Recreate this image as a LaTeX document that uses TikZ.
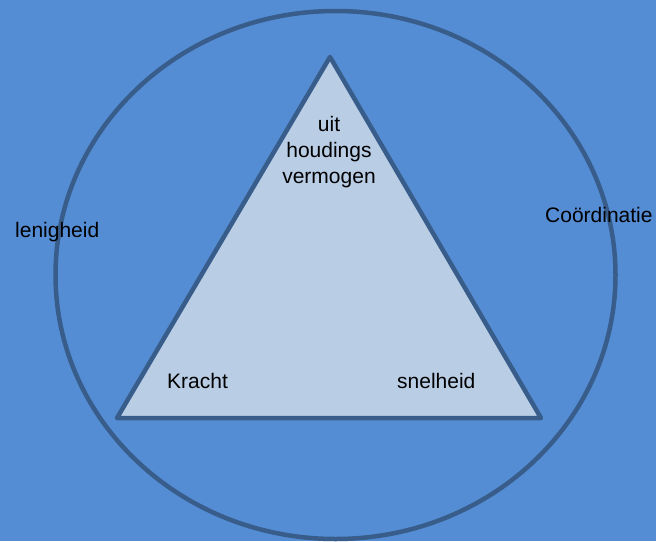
\documentclass[tikz,border=0pt]{standalone}
\usepackage{fontspec}
\setmainfont{Liberation Sans}
\definecolor{bgblue}{RGB}{84,141,212}
\definecolor{trifill}{RGB}{185,205,229}
\definecolor{edgeblue}{RGB}{56,93,138}
\begin{document}
\begin{tikzpicture}[x=1pt,y=-1pt,
  edge/.style={draw=edgeblue,line width=4.5pt,line join=round},
  lbl/.style={inner sep=0pt,font=\fontsize{21}{26}\selectfont,text=black}]
\useasboundingbox (0,0) rectangle (656,541);
\fill[bgblue] (0,0) rectangle (656,541);
\draw[edge] (335.5,275) ellipse [x radius=280, y radius=264];
\coordinate (apex) at (330,57);
\coordinate (bl) at (117,418);
\coordinate (br) at (541,418);
\filldraw[edge,fill=trifill] (apex) -- (bl) -- (br) -- cycle;
\node[lbl,anchor=base,align=center] (top) at (329,183) {uit\\houdings\\vermogen};
\node[lbl,anchor=base west] (len) at (15,237) {lenigheid};
\node[lbl,anchor=base west] (coo) at (545,222) {Coördinatie};
\node[lbl,anchor=base west] (kr) at (167,388) {Kracht};
\node[lbl,anchor=base west] (sn) at (397,388) {snelheid};
\end{tikzpicture}
\end{document}
